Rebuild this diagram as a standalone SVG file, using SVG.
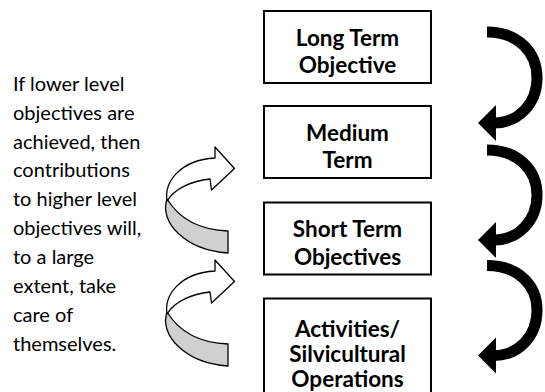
<svg xmlns="http://www.w3.org/2000/svg" width="545" height="392" viewBox="0 0 545 392">
<style>
.box{fill:#fff;stroke:#000;stroke-width:2}
.bt{font-family:Lato,"Liberation Sans",sans-serif;font-weight:bold;font-size:22.5px;fill:#000;text-anchor:middle}
.lt{font-family:Lato,"Liberation Sans",sans-serif;font-size:20px;fill:#000}
.arc{fill:none;stroke:#000;stroke-width:11}
.head{fill:#000}
.up{fill:#fff;stroke:#000;stroke-width:1.3;stroke-linejoin:round}
.under{fill:#d0d0d0;stroke:#000;stroke-width:1.3;stroke-linejoin:round}
</style>
<defs>
<g id="curl">
<path class="under" d="M167,199 C159,222 185,250 228,253 L228,231 C200,230 180,220 167,199 Z"/>
<path class="up" d="M167,201 C164,182 180,160 215,158 L215,147 L234.5,168.5 L211.5,190 L210,179 C192,181 175,188 167,201 Z"/>
</g>
</defs>
<rect width="545" height="392" fill="#fff"/>
<g id="text-left">
<text class="lt" x="13" y="90.7">If lower level</text>
<text class="lt" x="13" y="119.6">objectives are</text>
<text class="lt" x="13" y="148.5">achieved, then</text>
<text class="lt" x="13" y="177.4">contributions</text>
<text class="lt" x="13" y="206.3">to higher level</text>
<text class="lt" x="13" y="235.2">objectives will,</text>
<text class="lt" x="13" y="264.1">to a large</text>
<text class="lt" x="13" y="293">extent, take</text>
<text class="lt" x="13" y="321.9">care of</text>
<text class="lt" x="13" y="350.8">themselves.</text>
</g>
<g id="node-long">
<rect class="box" x="264" y="11" width="167" height="72"/>
<text class="bt" x="347.5" y="45.7">Long Term</text>
<text class="bt" x="347.5" y="73">Objective</text>
</g>
<g id="node-medium">
<rect class="box" x="264" y="106" width="167" height="72"/>
<text class="bt" x="347.5" y="140.7">Medium</text>
<text class="bt" x="347.5" y="167.7">Term</text>
</g>
<g id="node-short">
<rect class="box" x="264" y="202.5" width="167" height="72"/>
<text class="bt" x="347.5" y="237.3">Short Term</text>
<text class="bt" x="347.5" y="265">Objectives</text>
</g>
<g id="node-activities">
<rect class="box" x="264" y="298.5" width="167" height="110"/>
<text class="bt" x="347.5" y="337">Activities/</text>
<text class="bt" x="347.5" y="362">Silvicultural</text>
<text class="bt" x="347.5" y="386.5">Operations</text>
</g>
<g id="connectors">
<path class="arc" d="M487,32 C518,32 537,52 537,78 C537,104 518,123 494,123"/>
<polygon class="head" points="478,123 496,105 496,141"/>
<path class="arc" d="M487,150 C518,150 537,170 537,195 C537,221 518,240 494,240"/>
<polygon class="head" points="478,240 496,222 496,258"/>
<path class="arc" d="M487,265.5 C518,265.5 537,285 537,310 C537,337 518,355.5 494,355.5"/>
<polygon class="head" points="478,355.5 496,337.5 496,373.5"/>
<use href="#curl"/>
<use href="#curl" y="113"/>
</g>
</svg>
